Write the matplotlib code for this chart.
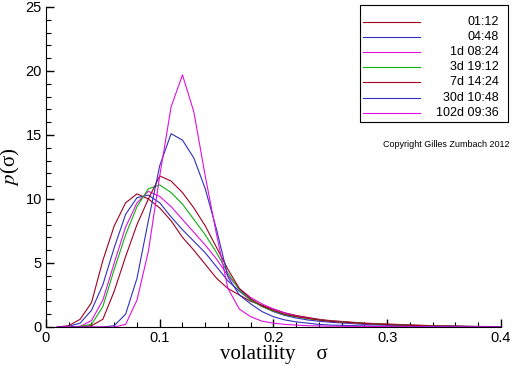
import matplotlib
matplotlib.use("Agg")
import matplotlib.pyplot as plt
from matplotlib.patches import Rectangle
from matplotlib.ticker import MultipleLocator, FuncFormatter

plt.rcParams["mathtext.fontset"] = "stix"
plt.rcParams["font.family"] = "Liberation Sans"

# Grilla de volatilidad (sigma) donde se leyeron los valores
sigma = [0.01, 0.02, 0.03, 0.04, 0.05, 0.06, 0.07, 0.08, 0.09, 0.10,
         0.11, 0.12, 0.13, 0.14, 0.15, 0.16, 0.17, 0.18, 0.19, 0.20,
         0.21, 0.22, 0.23, 0.24, 0.25, 0.28, 0.31, 0.34, 0.37, 0.40]

p_01h12 = [0.0, 0.1, 0.6, 1.9, 5.2, 7.9, 9.7, 10.4, 10.0, 9.3,
           8.3, 7.0, 6.0, 4.9, 3.8, 3.0, 2.5, 2.0, 1.7, 1.4,
           1.1, 0.9, 0.75, 0.6, 0.5, 0.3, 0.2, 0.1, 0.05, 0.03]
p_04h48 = [0.0, 0.05, 0.3, 1.3, 3.3, 6.2, 8.8, 10.1, 10.3, 9.7,
           8.6, 7.6, 6.7, 5.8, 4.7, 3.6, 2.8, 2.1, 1.6, 1.2,
           0.9, 0.7, 0.55, 0.45, 0.37, 0.2, 0.12, 0.07, 0.04, 0.02]
p_1d08 = [0.0, 0.0, 0.05, 0.5, 2.1, 5.0, 7.8, 9.7, 10.6, 10.2,
          9.4, 8.4, 7.4, 6.4, 5.3, 4.0, 3.0, 2.3, 1.8, 1.4,
          1.1, 0.85, 0.7, 0.55, 0.45, 0.25, 0.14, 0.08, 0.04, 0.02]
p_3d19 = [0.0, 0.0, 0.05, 0.2, 1.6, 4.5, 7.2, 9.4, 10.8, 11.1,
          10.5, 9.6, 8.4, 7.2, 5.8, 4.2, 2.9, 2.1, 1.6, 1.25,
          0.95, 0.8, 0.65, 0.55, 0.45, 0.28, 0.15, 0.08, 0.04, 0.02]
p_7d14 = [0.0, 0.0, 0.0, 0.1, 0.6, 2.8, 5.5, 8.0, 10.0, 11.8,
          11.4, 10.5, 9.3, 7.9, 6.2, 4.5, 3.0, 2.2, 1.65, 1.3,
          1.0, 0.82, 0.67, 0.55, 0.45, 0.28, 0.15, 0.08, 0.04, 0.02]
p_30d10 = [0.0, 0.0, 0.0, 0.0, 0.0, 0.1, 1.0, 3.8, 8.3, 12.6,
           15.1, 14.6, 13.2, 10.8, 7.6, 3.9, 2.5, 1.8, 1.2, 0.8,
           0.55, 0.4, 0.3, 0.2, 0.15, 0.08, 0.05, 0.03, 0.02, 0.01]
p_102d09 = [0.0, 0.0, 0.0, 0.0, 0.0, 0.0, 0.2, 2.1, 5.9, 11.8,
            17.2, 19.7, 16.8, 11.8, 7.2, 3.0, 1.4, 0.8, 0.45, 0.3,
            0.2, 0.15, 0.1, 0.08, 0.06, 0.04, 0.02, 0.01, 0.01, 0.0]

labels = ["01:12", "04:48", "1d 08:24", "3d 19:12", "7d 14:24", "30d 10:48", "102d 09:36"]
series = [p_01h12, p_04h48, p_1d08, p_3d19, p_7d14, p_30d10, p_102d09]
colors = ["#a00020", "#3030c0", "#e010e0", "#10b010", "#a00020", "#3030c0", "#e010e0"]

fig = plt.figure(figsize=(5.12, 3.66), dpi=100)
ax = fig.add_axes([0.0898, 0.1066, 0.8887, 0.8743])

for vals, col in zip(series, colors):
    ax.plot(sigma, vals, color=col, lw=0.8)

ax.set_xlim(0, 0.4)
ax.set_ylim(0, 25)

# Ejes: solo izquierda y abajo, ticks hacia adentro
ax.spines["top"].set_visible(False)
ax.spines["right"].set_visible(False)
ax.xaxis.set_major_locator(MultipleLocator(0.1))
ax.xaxis.set_minor_locator(MultipleLocator(0.02))
ax.yaxis.set_major_locator(MultipleLocator(5))
ax.yaxis.set_minor_locator(MultipleLocator(1))
ax.xaxis.set_major_formatter(FuncFormatter(lambda v, pos: "%g" % round(v, 3)))
ax.yaxis.set_major_formatter(FuncFormatter(lambda v, pos: "%g" % round(v, 3)))
ax.tick_params(which="major", direction="in", length=6, width=1, labelsize=10.5, pad=3)
ax.tick_params(which="minor", direction="in", length=3.5, width=0.8)

ax.set_xlabel("volatility    σ", family="Liberation Serif", fontsize=15, labelpad=0)
ax.set_ylabel("$p$(σ)", family="Liberation Serif", fontsize=15)
ax.yaxis.set_label_coords(-0.052, 0.5)

# Leyenda dibujada a mano (texto alineado a la derecha)
box_x0, box_y0 = (360 - 46) / 455, (327 - 122) / 320
box_w, box_h = (508 - 360) / 455, (122 - 5) / 320
ax.add_patch(Rectangle((box_x0, box_y0), box_w, box_h, transform=ax.transAxes,
                       fill=False, edgecolor="black", lw=0.8, clip_on=False))
for i, (lab, col) in enumerate(zip(labels, colors)):
    yy = (327 - (21.7 + i * 15.2)) / 320
    ax.plot([(363 - 46) / 455, (420 - 46) / 455], [yy, yy], color=col, lw=0.8,
            transform=ax.transAxes, clip_on=False)
    ax.text((499 - 46) / 455, yy, lab, transform=ax.transAxes, ha="right", va="center",
            fontsize=9)

ax.text((510 - 46) / 455, (327 - 145) / 320, "Copyright Gilles Zumbach 2012",
        transform=ax.transAxes, ha="right", va="center", fontsize=6.5)

fig.savefig("out.png", dpi=100)
